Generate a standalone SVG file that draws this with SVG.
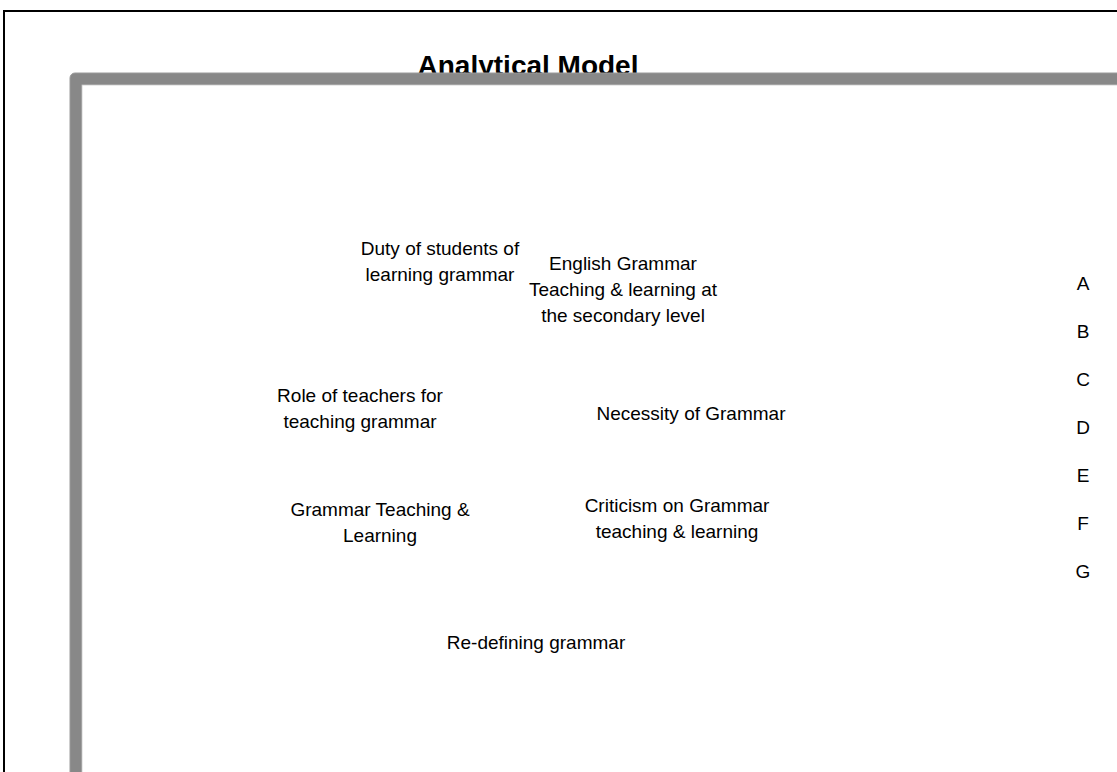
<svg xmlns="http://www.w3.org/2000/svg" width="1117" height="772" viewBox="0 0 1117 772">
<style>
.t{font-family:"Liberation Sans",Arial,sans-serif;font-size:19px;fill:#000;text-anchor:middle}
.title{font-family:"Liberation Sans",Arial,sans-serif;font-size:28px;font-weight:bold;fill:#000;text-anchor:middle}
</style>
<rect x="0" y="0" width="1117" height="772" fill="#fff"/>
<rect id="page-border" x="4" y="11" width="1200" height="900" fill="none" stroke="#000" stroke-width="2"/>
<text class="title" x="528" y="75">Analytical Model</text>
<g id="frame">
<rect x="70" y="73" width="1200" height="900" rx="5" fill="#888" stroke="#9a9a9a" stroke-width="1"/>
<rect x="82" y="85" width="1200" height="900" fill="#fff" stroke="#c8c8c8" stroke-width="0.8"/>
</g>
<g id="connectors"></g>
<g id="duty"><text class="t" x="440" y="255">Duty of students of</text><text class="t" x="440" y="281">learning grammar</text></g>
<g id="english"><text class="t" x="623" y="270">English Grammar</text><text class="t" x="623" y="296">Teaching &amp; learning at</text><text class="t" x="623" y="322">the secondary level</text></g>
<g id="role"><text class="t" x="360" y="402">Role of teachers for</text><text class="t" x="360" y="428">teaching grammar</text></g>
<g id="necessity"><text class="t" x="691" y="420">Necessity of Grammar</text></g>
<g id="gtl"><text class="t" x="380" y="516">Grammar Teaching &amp;</text><text class="t" x="380" y="542">Learning</text></g>
<g id="criticism"><text class="t" x="677" y="512">Criticism on Grammar</text><text class="t" x="677" y="538">teaching &amp; learning</text></g>
<g id="redefining"><text class="t" x="536" y="649">Re-defining grammar</text></g>
<g id="letters">
<text class="t" x="1083" y="290">A</text>
<text class="t" x="1083" y="338">B</text>
<text class="t" x="1083" y="386">C</text>
<text class="t" x="1083" y="434">D</text>
<text class="t" x="1083" y="482">E</text>
<text class="t" x="1083" y="530">F</text>
<text class="t" x="1083" y="578">G</text>
</g>
</svg>
